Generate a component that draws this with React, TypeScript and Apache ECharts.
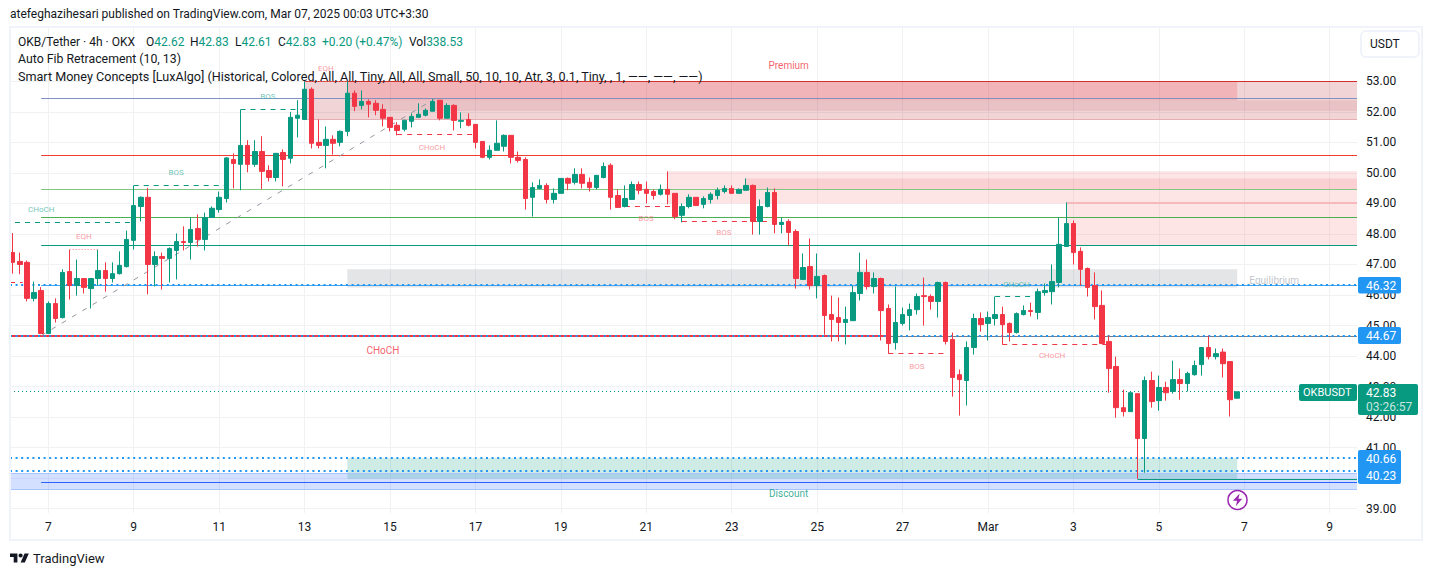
import React, { useEffect, useRef } from "react";
import * as echarts from "echarts";

const FONT = "Roboto, sans-serif";
const UP = "#089981";
const DOWN = "#F23645";
const INK = "#131722";

// Candle rows, 4h bars: open, high, low, close. Bar 5 is the Feb 7 tick.
const ohlc: number[][] = [
  [47.39,48.03,46.70,47.07],[47.10,47.39,46.68,47.00],[47.07,47.13,45.79,45.89],[45.89,46.44,45.79,46.08],
  [46.15,46.26,44.72,44.74],[44.74,45.79,44.72,45.72],[45.72,45.89,45.10,45.23],[45.26,46.84,45.23,46.74],
  [46.77,47.48,45.85,46.31],[46.31,47.16,45.98,46.54],[46.54,46.54,46.05,46.25],[46.21,46.56,45.56,46.54],
  [46.54,47.48,46.31,46.80],[46.80,47.07,46.11,46.54],[46.54,47.07,46.41,46.70],[46.70,47.43,46.67,46.97],
  [46.93,48.11,46.90,47.82],[47.79,49.58,47.49,48.93],[48.90,49.23,48.41,49.20],[49.20,49.51,46.02,47.00],
  [47.00,47.43,46.28,47.26],[47.26,47.39,46.18,47.20],[47.20,47.56,46.41,47.52],[47.46,48.02,46.51,47.75],
  [47.75,48.25,47.46,47.72],[47.72,48.54,47.16,48.15],[48.18,48.64,47.59,47.82],[47.82,48.70,47.46,48.54],
  [48.54,48.90,48.54,48.84],[48.80,49.39,48.70,49.20],[49.16,50.52,49.03,50.49],[50.44,50.64,49.49,50.31],
  [50.28,52.07,49.43,50.90],[50.90,51.07,50.02,50.28],[50.28,51.07,50.20,50.70],[50.70,51.20,49.47,50.05],
  [50.08,50.25,49.72,49.85],[49.85,50.64,49.72,50.64],[50.67,50.77,49.56,50.44],[50.48,52.00,50.31,51.82],
  [51.79,52.38,51.16,51.89],[51.75,53.00,51.75,52.74],[52.74,52.80,50.80,50.97],[51.00,51.75,50.80,50.90],
  [50.90,51.52,50.15,51.10],[51.10,51.23,50.60,50.97],[51.00,51.39,50.87,51.36],[51.36,53.00,51.20,52.61],
  [52.61,52.70,52.02,52.18],[52.21,52.70,52.08,52.34],[52.34,52.41,51.82,52.25],[52.28,52.38,51.89,52.05],
  [52.08,52.25,51.52,51.79],[51.82,51.82,51.36,51.49],[51.56,51.66,51.23,51.39],[51.43,51.75,51.36,51.72],
  [51.69,51.95,51.49,51.85],[51.82,52.28,51.82,51.92],[51.89,52.11,51.85,52.05],[52.02,52.41,52.02,52.34],
  [52.38,52.38,51.72,51.79],[51.79,52.28,51.79,52.21],[52.21,52.25,51.39,51.72],[51.69,51.98,51.46,51.72],
  [51.75,51.95,51.52,51.56],[51.59,51.59,50.80,51.00],[51.03,51.03,50.48,50.51],[50.51,50.90,50.44,50.74],
  [50.74,51.72,50.74,50.97],[50.87,51.26,50.70,51.23],[51.23,51.23,50.31,50.51],[50.51,50.70,50.34,50.41],
  [50.44,50.51,48.80,49.16],[49.20,49.69,48.57,49.52],[49.49,49.79,49.46,49.59],[49.59,49.66,49.00,49.13],
  [49.13,49.49,49.00,49.33],[49.33,49.82,49.33,49.82],[49.82,49.85,49.43,49.66],[49.69,50.15,49.62,49.95],
  [49.95,50.15,49.49,49.66],[49.69,49.85,49.39,49.52],[49.52,49.92,49.46,49.92],[49.85,50.34,49.82,50.21],
  [50.25,50.31,48.80,49.20],[49.26,49.46,48.87,48.87],[48.90,49.59,48.87,49.16],[49.13,49.72,49.13,49.62],
  [49.62,49.72,49.30,49.43],[49.46,49.72,49.00,49.33],[49.39,49.46,49.13,49.26],[49.30,49.62,49.26,49.46],
  [49.46,50.05,48.97,49.30],[49.33,49.33,48.48,48.57],[48.61,49.00,48.38,48.90],[48.90,49.30,48.84,49.20],
  [49.20,49.20,48.93,48.93],[48.97,49.23,48.84,49.16],[49.13,49.36,49.00,49.30],[49.26,49.52,49.13,49.43],
  [49.39,49.59,49.33,49.49],[49.49,49.59,49.33,49.33],[49.33,49.49,49.33,49.46],[49.43,49.82,49.43,49.59],
  [49.59,49.62,47.98,48.41],[48.41,49.13,47.98,48.90],[48.90,49.52,48.87,49.36],[49.36,49.49,48.02,48.31],
  [48.31,48.54,48.02,48.38],[48.41,48.48,47.62,48.05],[48.08,48.15,46.21,46.54],[46.51,47.36,46.51,46.90],
  [46.93,47.85,46.18,46.31],[46.31,47.36,45.89,46.61],[46.64,46.67,44.70,45.33],[45.36,45.98,44.48,45.20],
  [45.26,45.92,44.48,45.10],[45.10,45.62,44.38,45.20],[45.16,46.31,45.16,46.08],[46.05,47.39,45.82,46.74],
  [46.74,47.16,46.18,46.28],[46.28,46.74,46.05,46.54],[46.54,46.57,44.51,45.49],[45.56,45.69,44.08,44.41],
  [44.44,46.28,44.21,45.10],[45.07,45.59,45.00,45.36],[45.33,45.72,44.84,45.52],[45.52,46.05,45.36,45.95],
  [45.98,46.57,45.00,45.95],[45.95,46.02,45.52,45.79],[45.79,46.44,45.26,46.41],[46.41,46.44,44.38,44.48],
  [44.54,44.77,42.67,43.30],[43.39,43.56,42.05,43.23],[43.20,44.48,42.38,44.28],[44.28,45.39,44.05,45.23],
  [45.23,45.43,44.80,45.03],[45.07,45.46,44.51,45.26],[45.23,45.95,45.00,45.36],[45.36,45.62,44.38,45.03],
  [45.07,45.10,44.48,44.77],[44.77,45.43,44.74,45.39],[45.36,45.66,45.33,45.49],[45.49,45.75,45.30,45.46],
  [45.43,46.21,45.20,46.11],[46.08,46.38,45.98,46.15],[46.11,47.00,45.69,46.44],[46.41,48.54,46.25,47.66],
  [47.59,49.03,47.59,48.34],[48.34,48.44,47.00,47.39],[47.43,47.56,46.31,46.84],[46.87,46.90,45.95,46.25],
  [46.31,46.74,45.20,45.62],[45.66,46.15,44.41,44.41],[44.48,44.67,42.80,43.59],[43.66,43.98,41.98,42.31],
  [42.31,42.90,42.02,42.18],[42.18,42.80,42.18,42.80],[42.77,42.77,39.98,41.30],[41.30,43.33,40.18,43.20],
  [43.20,43.49,42.31,42.51],[42.54,43.36,42.21,42.97],[42.97,43.16,42.54,42.80],[42.84,43.85,42.77,43.23],
  [43.23,43.59,42.57,43.10],[43.10,43.49,42.84,43.43],[43.39,43.85,43.36,43.69],[43.72,44.28,43.36,44.28],
  [44.28,44.67,43.89,43.98],[43.98,44.25,43.89,44.08],[44.13,44.25,43.30,43.75],[43.82,43.82,42.02,42.57],
  [42.62,42.83,42.61,42.83],
];
const FIRST_BAR = -5; // x is counted in bars from the Feb 7 tick

const xTicks = [0,12,24,36,48,60,72,84,96,108,120,132,144,156,168,180];
const xTickLabels = ["7","9","11","13","15","17","19","21","23","25","27","Mar","3","5","7","9"];
const yTicks = [39,40,41,42,43,44,45,46,47,48,49,50,51,52,53];

const X_MIN = -5.38;
const X_MAX = 183.83;
const Y_MIN = 38.86;
const Y_MAX = 54.746;

// x1, x2, top price, bottom price
const zonePremiumBase = [36, X_MAX, 53.0, 51.75];
const zonePremiumBand = [42, X_MAX, 52.38, 52.03];
const zonePremiumTop = [42, 167, 53.0, 52.38];
const zonePaleUpper = [87, X_MAX, 50.05, 49.0];
const zonePaleLower = [143, X_MAX, 49.0, 47.62];
const zonePaleBand = [98, X_MAX, 49.82, 49.46];
const zoneEquilibrium = [42, 167, 46.84, 46.25];
const zoneDiscount = [42, 167, 40.65, 39.98];
const zoneBlue = [X_MIN, X_MAX, 40.17, 39.63];

// price levels
const fibLevels = [52.43, 50.57, 49.46, 48.54, 47.62, 46.32, 39.87];
const fibColors = ["#8090c0", "#f23b2f", "#81c784", "#4caf50", "#089981", "#42a5f5", "#2962ff"];
const FIB_START = -1;
const alertLevels = [46.32, 44.67, 40.66, 40.23];
const lastPrice = 42.83;

// x1, x2, price
const dashedGreen = [[-4.68,11.76,48.38],[12,24.7,49.58],[27,36,52.07],[133,139,45.95]];
const dashedRed = [[-5.38,-3.6,46.4],[49,60,51.25],[81,88,48.89],[89,102,48.4],[118,126.4,44.07],[134,148.7,44.37]];
const dottedEqh = [[3,7,47.48],[36,42,53.0]];
const solidChoch = [X_MIN, 118, 44.65];
const greyLevel = [118, X_MAX, 44.65];
const discountLow = [153, X_MAX, 39.97];
const premiumTopEdge = [36, X_MAX, 53.0];
const premiumBottomEdge = [36, X_MAX, 51.75];
const paleEdge = [143, X_MAX, 49.0];
const blueEdges = [[X_MIN, X_MAX, 40.17],[X_MIN, X_MAX, 39.63]];
const fibTrend = [-1, 44.67, 54.3, 52.43]; // x1, price1, x2, price2

// text, x, price
const tinyGreen: [string, number, number][] = [["CHoCH",-1,48.8],["BOS",17.94,50.02],["BOS",30.86,52.51],["CHoCH",136,46.34]];
const tinyRed: [string, number, number][] = [["EQH",5,47.92],["EQH",39,53.43],["CHoCH",53.9,50.84],["BOS",83.96,48.51],["BOS",94.9,48.05],["BOS",122,43.66],["CHoCH",141,44.02]];
const bigLabels: [string, number, number, string][] = [["CHoCH",47,44.17,DOWN],["Premium",104,53.52,DOWN],["Discount",104,39.49,UP],["Equilibrium",172.2,46.48,"#b2b5be"]];

const titleText = "atefeghazihesari published on TradingView.com, Mar 07, 2025 00:03 UTC+3:30";
const legendName = "OKB/Tether · 4h · OKX";
const legendFields = ["O", "H", "L", "C"];
const legendValues = ["42.62", "42.83", "42.61", "42.83"];
const legendFieldX = [146, 190, 235, 278];
const legendChange = "+0.20 (+0.47%)";
const legendVol = "338.53";
const legendLine2 = "Auto Fib Retracement (10, 13)";
const legendLine3 = "Smart Money Concepts [LuxAlgo] (Historical, Colored, All, All, Tiny, All, All, Small, 50, 10, 10, Atr, 3, 0.1, Tiny, , 1, ——, ——, ——)";

echarts.graphic.registerShape("tvLogo", echarts.graphic.extendPath(
  "M14 22H7V11H0V4h14v18zM28 22h-8l7.5-18h8L28 22zM20 4a4 4 0 1 0 0 8a4 4 0 1 0 0-8z", {}) as any);
echarts.graphic.registerShape("bolt", echarts.graphic.extendPath(
  "M9 0L1 9h5L4.5 16L12 6.5H7.5z", {}) as any);

type Seg = { v: number[]; stroke: string; width: number; dash?: number[] };
const hseg = (r: number[], stroke: string, width: number, dash?: number[]): Seg => ({
  v: [r[0], r[2], r[1], r[2]], stroke, width, dash,
});
const DOTS = [2, 3.6];
const DASH = [5, 5];
const segments: Seg[] = [
  hseg(premiumBottomEdge, "#e4aeb3", 1),
  hseg(paleEdge, "#f6b8bc", 2),
  ...blueEdges.map((r) => hseg(r, "#a9c4fb", 1)),
  ...fibLevels.map((p, i) => hseg([FIB_START, X_MAX, p], fibColors[i], 1)),
  hseg(premiumTopEdge, "#d32f2f", 1),
  hseg(greyLevel, "#787b86", 1),
  hseg(solidChoch, DOWN, 2),
  hseg(discountLow, UP, 1),
  ...alertLevels.map((p) => hseg([X_MIN, X_MAX, p], "#2196f3", 2, DOTS)),
  hseg([X_MIN, X_MAX, lastPrice], UP, 1, [1, 3]),
  ...dashedGreen.map((r) => hseg(r, UP, 1, DASH)),
  ...dashedRed.map((r) => hseg(r, DOWN, 1, DASH)),
  ...dottedEqh.map((r) => hseg(r, "#f7818a", 1, [1, 2])),
  { v: fibTrend, stroke: "#9598a1", width: 1, dash: [5, 7] },
];

const area = (r: number[], color: string) => [
  { coord: [r[0], r[2]], itemStyle: { color } },
  { coord: [r[1], r[3]] },
];
const txt = (text: string, x: number, y: number, extra: any = {}) => ({
  type: "text", x, y, z: 100, silent: true,
  style: { text, fill: INK, font: `12px ${FONT}`, textVerticalAlign: "middle", ...extra },
});
const box = (x: number, y: number, width: number, height: number, fill: string) => ({
  type: "rect", z: 99, silent: true,
  shape: { x, y, width, height, r: 2 },
  style: { fill },
});
const snap = (y: number, w: number) => (w % 2 ? Math.floor(y) + 0.5 : Math.round(y));

export default function App() {
  const ref = useRef<HTMLDivElement>(null);
  useEffect(() => {
    const chart = echarts.init(ref.current!, undefined, { renderer: "svg" });
    chart.setOption({
      animation: false,
      backgroundColor: "#ffffff",
      grid: { left: 10, right: 76, top: 28, bottom: 63, containLabel: false },
      xAxis: {
        type: "value", min: X_MIN, max: X_MAX, scale: true,
        axisLine: { show: false },
        axisTick: { show: false, customValues: xTicks },
        splitLine: { show: true, lineStyle: { color: "#f0f1f3", width: 1 } },
        axisLabel: {
          customValues: xTicks, margin: 8, color: INK, fontSize: 12, fontFamily: FONT,
          formatter: (v: number) => xTickLabels[xTicks.indexOf(v)] ?? "",
        },
      },
      yAxis: {
        type: "value", position: "right", min: Y_MIN, max: Y_MAX, scale: true,
        axisLine: { show: false },
        axisTick: { show: false, customValues: yTicks },
        splitLine: { show: true, lineStyle: { color: "#f0f1f3", width: 1 } },
        axisLabel: {
          customValues: yTicks, margin: 9, color: INK, fontSize: 12, fontFamily: FONT,
          formatter: (v: number) => v.toFixed(2),
        },
      },
      series: [
        {
          type: "line", name: "zones", data: [], z: 1, silent: true,
          markArea: {
            silent: true, z: 1,
            data: [
              area(zonePremiumBase, "rgba(178,40,51,0.2)"),
              area(zonePremiumBand, "rgba(178,40,51,0.1)"),
              area(zonePremiumTop, "rgba(242,54,69,0.2)"),
              area(zonePaleUpper, "rgba(247,124,128,0.2)"),
              area(zonePaleLower, "rgba(247,124,128,0.2)"),
              area(zonePaleBand, "rgba(242,54,69,0.12)"),
              area(zoneEquilibrium, "rgba(120,123,134,0.2)"),
              area(zoneBlue, "rgba(41,98,255,0.2)"),
              area(zoneDiscount, "rgba(8,153,129,0.2)"),
            ],
          },
        },
        {
          type: "custom", name: "levels", z: 2, silent: true,
          encode: { x: [0, 2], y: [1, 3] },
          data: segments.map((s) => s.v),
          renderItem: (params: any, api: any) => {
            const s = segments[params.dataIndex];
            const a = api.coord([api.value(0), api.value(1)]);
            const b = api.coord([api.value(2), api.value(3)]);
            const flat = api.value(1) === api.value(3);
            const y1 = flat ? snap(a[1], s.width) : a[1];
            const y2 = flat ? snap(b[1], s.width) : b[1];
            return {
              type: "line",
              shape: { x1: a[0], y1, x2: b[0], y2 },
              style: { stroke: s.stroke, lineWidth: s.width, lineDash: s.dash ?? null, fill: null },
            };
          },
        },
        {
          type: "candlestick", name: "OKB/Tether", z: 10, silent: true,
          layout: "horizontal",
          barWidth: 5,
          encode: { x: 0, y: [1, 2, 3, 4] },
          itemStyle: { color: UP, color0: DOWN, borderColor: UP, borderColor0: DOWN, borderWidth: 1 },
          data: ohlc.map((r, i) => [i + FIRST_BAR, r[0], r[3], r[2], r[1]]),
        },
        {
          type: "scatter", name: "labels", z: 11, silent: true,
          symbolSize: 1, itemStyle: { color: "transparent" },
          data: [
            ...tinyGreen.map(([t, x, y]) => ({ value: [x, y], label: { show: true, position: "inside", formatter: t, color: "#4db6a4", fontSize: 8, fontFamily: FONT } })),
            ...tinyRed.map(([t, x, y]) => ({ value: [x, y], label: { show: true, position: "inside", formatter: t, color: "#f7818a", fontSize: 8, fontFamily: FONT } })),
            ...bigLabels.map(([t, x, y, c]) => ({ value: [x, y], label: { show: true, position: "inside", formatter: t, color: c, fontSize: 10, fontFamily: FONT } })),
          ],
        },
      ],
      graphic: {
        elements: [
          { type: "rect", z: 98, silent: true, shape: { x: 10, y: 27, width: 1412, height: 513 }, style: { fill: "none", stroke: "#f0f3fa", lineWidth: 2 } },
          txt(titleText, 10, 14),
          txt(legendName, 18, 42),
          ...legendFields.map((f, i) => ({
            type: "text", x: legendFieldX[i], y: 42, z: 100, silent: true,
            style: {
              text: `{a|${f}}{b|${legendValues[i]}}`, textVerticalAlign: "middle",
              rich: { a: { fill: INK, font: `12px ${FONT}` }, b: { fill: UP, font: `12px ${FONT}` } },
            },
          })),
          txt(legendChange, 322, 42, { fill: UP }),
          {
            type: "text", x: 409, y: 42, z: 100, silent: true,
            style: {
              text: `{a|Vol}{b|${legendVol}}`, textVerticalAlign: "middle",
              rich: { a: { fill: INK, font: `12px ${FONT}` }, b: { fill: UP, font: `12px ${FONT}` } },
            },
          },
          txt(legendLine2, 18, 59, { font: `12.3px ${FONT}` }),
          txt(legendLine3, 18, 76, { font: `12.6px ${FONT}` }),
          { type: "rect", z: 99, silent: true, shape: { x: 1361, y: 31, width: 58, height: 26, r: 5 }, style: { fill: "#fff", stroke: "#f0f3fa", lineWidth: 2 } },
          txt("USDT", 1370, 44),
          box(1358, 277, 43, 16.5, "#2196f3"),
          txt("46.32", 1366, 285.5, { fill: "#fff" }),
          box(1358, 327, 43, 17, "#2196f3"),
          txt("44.67", 1366, 335.5, { fill: "#fff" }),
          box(1358, 450, 43, 34, "#2196f3"),
          txt("40.66", 1366, 459, { fill: "#fff" }),
          txt("40.23", 1366, 476, { fill: "#fff" }),
          box(1299, 384, 58, 17, UP),
          txt("OKBUSDT", 1303, 392.5, { fill: "#fff", font: `11px ${FONT}` }),
          box(1358, 384, 60, 31, UP),
          txt("42.83", 1366, 393, { fill: "#fff" }),
          txt("03:26:57", 1366, 407, { fill: "#c6e6df" }),
          { type: "circle", z: 99, silent: true, shape: { cx: 1237.5, cy: 500, r: 9.5 }, style: { fill: "#fff", stroke: "#9c27b0", lineWidth: 1.5 } },
          { type: "bolt", z: 100, silent: true, x: 1232, y: 493.5, scaleX: 0.85, scaleY: 0.8, style: { fill: "#9c27b0" } },
          { type: "tvLogo", z: 100, silent: true, x: 10, y: 551.5, scaleX: 0.53, scaleY: 0.5, style: { fill: INK } },
          txt("TradingView", 33, 558, { font: `13px ${FONT}` }),
        ],
      },
    });
    return () => chart.dispose();
  }, []);
  return (
    <div
      ref={ref}
      style={{ position: "fixed", left: 0, top: 0, width: 1433, height: 576, background: "#fff" }}
    />
  );
}
